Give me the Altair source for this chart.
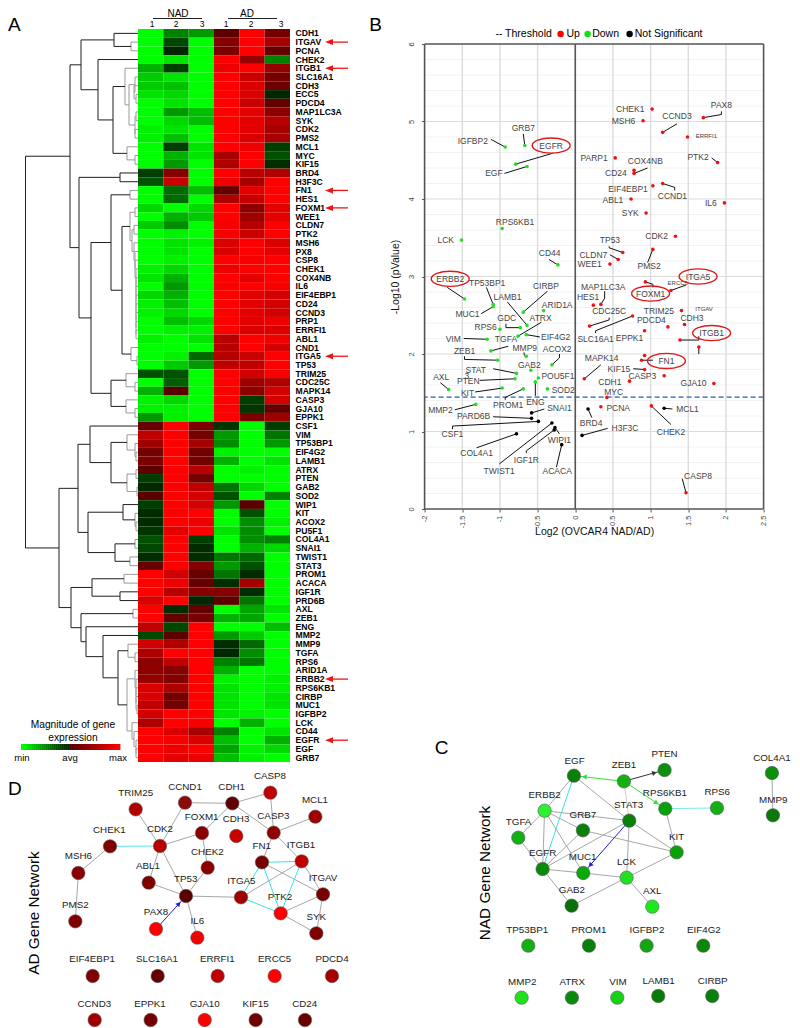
import math
import altair as alt
import pandas as pd

FONT = "Liberation Sans"

# ---------- A: heat map ----------
genes = ["CDH1","ITGAV","PCNA","CHEK2","ITGB1","SLC16A1","CDH3","ECC5","PDCD4","MAP1LC3A","SYK","CDK2","PMS2","MCL1","MYC","KIF15","BRD4","H3F3C","FN1","HES1","FOXM1","WEE1","CLDN7","PTK2","MSH6","PX8","CSP8","CHEK1","COX4NB","IL6","EIF4EBP1","CD24","CCND3","PRP1","ERRFI1","ABL1","CND1","ITGA5","TP53","TRIM25","CDC25C","MAPK14","CASP3","GJA10","EPPK1","CSF1","VIM","TP53BP1","EIF4G2","LAMB1","ATRX","PTEN","GAB2","SOD2","WIP1","KIT","ACOX2","PU5F1","COL4A1","SNAI1","TWIST1","STAT3","PROM1","ACACA","IGF1R","PRD6B","AXL","ZEB1","ENG","MMP2","MMP9","TGFA","RPS6","ARID1A","ERBB2","RPS6KB1","CIRBP","MUC1","IGFBP2","LCK","CD44","EGFR","EGF","GRB7"]
samples = ["N1","N2","N3","A1","A2","A3"]
heat = [
[-1,-.5,-.6,.03,1,.2],[-1,-.25,-1,.3,1,.5],[-1,-.02,-1,.25,1,.1],[-1,-.9,-1,1,.4,-.5],[-.7,-.2,-1,.9,1,.4],
[-.8,-.9,-1,1,.7,.2],[-.8,-.75,-1,1,.8,.15],[-.9,-.85,-1,1,.8,-.03],[-1,-.9,-1,1,.7,.08],[-1,-.6,-.75,1,.85,.35],
[-1,-.85,-.75,1,.85,.6],[-.95,-.9,-1,1,.85,.5],[-.95,-.75,-1,1,.8,.5],[-1,-.2,-.9,1,.9,-.2],[-1,-.7,-.9,.5,1,-.3],
[-1,-.6,-1,.55,1,-.1],[-.2,.3,-1,1,.6,.55],[-.3,.7,-1,.9,.5,1],[-1,-.4,-.75,.1,.85,1],[-1,-.4,-1,.55,.7,1],
[-.85,-1,-.85,1,.35,.85],[-1,-.7,-.8,1,.45,.85],[-.8,-.55,-1,.95,.6,1],[-1,-.95,-1,.95,.7,1],[-1,-.9,-.95,.8,1,.8],
[-1,-.9,-1,.8,1,.85],[-1,-.95,-1,1,.95,1],[-.95,-.85,-1,.9,1,1],[-.9,-.7,-1,1,.85,1],[-1,-.6,-1,.95,1,.95],
[-.85,-.7,-1,1,.85,.75],[-.95,-.75,-1,1,.85,.75],[-.95,-.85,-1,1,.85,.75],[-1,-.75,-.85,1,.85,.9],[-1,-.95,-.95,1,.8,.8],
[-.95,-1,-.9,.6,1,.9],[-1,-1,-1,.6,1,.75],[-1,-.95,-.4,.6,.7,1],[-1,-.8,-.6,.65,.65,1],[-.3,-.3,-1,1,.75,.95],
[-1,-.35,-1,1,.45,.55],[-.7,0,-1,1,.35,.75],[-.95,-.85,-1,1,-.2,.75],[-.95,-.95,-1,1,-.15,.1],[-.6,-.95,-1,1,.25,.45],
[.1,1,.25,-.15,-1,-.2],[.65,1,.2,-.6,-1,-.45],[.45,1,.5,-.55,-1,-.6],[.2,1,.2,-.95,-1,-1],[.25,1,.2,-.7,-1,-.9],
[.05,1,.6,-1,-.95,-1],[-.2,1,.2,-1,-1,-1],[-.05,1,.65,-.45,-.85,-1],[0,1,.75,-.3,-1,-.5],[-.2,1,.75,-.6,0,-1],
[-.08,1,1,-1,-.3,-1],[-.08,1,.9,-1,-.55,-.95],[-.15,.85,1,-.9,-.55,-1],[-.3,1,-.2,-1,-.55,-.5],[-.25,1,-.08,-1,-.7,-.85],
[-.08,1,-.08,-.45,-.4,-1],[.12,1,.3,-.6,-.3,-1],[1,.75,.12,-.45,-.08,-1],[1,.9,.1,-.1,.5,-1],[1,.6,.3,.3,-.1,-1],
[.8,1,-.03,.05,-.45,-1],[1,-.1,.1,-1,-.65,-.9],[1,.08,.2,-.7,-.65,-1],[.65,-.25,1,-1,-1,-.75],[-.25,.03,1,-.6,-.8,-1],
[.75,.55,1,-.1,-.4,-1],[.55,1,1,-.03,-.55,-1],[.35,.65,1,-.5,-.45,-1],[.35,.3,1,-.7,-1,-1],[.4,.3,1,-.95,-1,-.95],
[.8,.55,1,-.9,-1,-.95],[.8,.2,1,-.9,-1,-.9],[.65,.2,1,-.9,-1,-.9],[.75,1,1,-.9,-.95,-1],[.55,1,.95,-1,-.7,-1],
[1,.8,.5,-.5,-1,-.9],[1,.95,.8,-.75,-1,-.7],[1,.9,1,-.65,-.95,-.85],[1,.85,.9,-.75,-.95,-1]]
arrow_genes = ["ITGAV","ITGB1","FN1","FOXM1","ITGA5","ERBB2","EGFR"]

# dendrogram: (merge position, left, right), leaves are gene indices
t_5_12 = (129, (135, 5, (134, 6, (136, 7, 8))), (135, (136, 9, 10), (135, 11, 12)))
t_4_15 = (113, (125, 4, t_5_12), (127, 13, (135, 14, 15)))
t_0_15 = (81, (114, 0, (131, 1, 2)), (98, 3, t_4_15))
t_24_35 = (134, 24, (135, 25, (135, 26, (136, 27, (136, 28, (136, 29, (136, 30, (136, 31, (136, 32, (136, 33, (136, 34, 35)))))))))))
t_20_35 = (130, (135, 20, 21), (132, (134, 22, 23), t_24_35))
t_18_38 = (111, (130, 18, 19), (122, t_20_35, (131, 36, (137, 37, 38))))
t_39_44 = (111, (126, 39, (135, 40, 41)), (126, 42, (135, 43, 44)))
t_16_44 = (79, (120, 16, 17), (91, t_18_38, t_39_44))
t_45_53 = (90, 45, (111, (127, 46, (135, 47, (136, 48, 49))), (127, (136, 50, 51), (137, 52, 53))))
t_54_61 = (88, (123, 54, (135, 55, (136, 56, 57))), (115, (135, 58, 59), (130, 60, 61)))
t_73_83 = (127, (135, 73, (136, 74, (136, 75, (136, 76, (137, 77, 78))))), (132, 79, (134, 80, (136, 81, (136, 82, 83)))))
t_68_83 = (86, 68, (103, 69, (118, (128, 70, (135, 71, 72)), t_73_83)))
t_62_83 = (71, (92, (124, 62, 63), (120, 64, 65)), (81, (133, 66, 67), t_68_83))
tree = (25.5, (70, t_0_15, t_16_44), (59, (78, t_45_53, t_54_61), t_62_83))

HEAT_TOP, HEAT_BOTTOM, HEAT_LEFT, HEAT_RIGHT = 28, 761, 138, 290
ROW = (HEAT_BOTTOM - HEAT_TOP) / len(genes)
COL = (HEAT_RIGHT - HEAT_LEFT) / len(samples)

def genes_y(i):
    return HEAT_TOP + ROW * (i + .5)

segs = []
def walk(n):
    if isinstance(n, int):
        return float(HEAT_LEFT), genes_y(n)
    x, a, b = n
    xa, ya = walk(a)
    xb, yb = walk(b)
    shade = "#9a9a9a" if x >= 124 else "#1f1f1f"
    segs.extend([dict(x=x, x2=x, y=ya, y2=yb, c=shade),
                 dict(x=x, x2=xa, y=ya, y2=ya, c=shade),
                 dict(x=x, x2=xb, y=yb, y2=yb, c=shade)])
    return x, (ya + yb) / 2
walk(tree)

grad_stops = [i / 24 - 1 for i in range(49)]

# ---------- B: volcano ----------
# gene, log2 ratio, -log10 p, class
points = [
("CHEK1",1.02,5.16,"u"),("MSH6",.90,5.01,"u"),("PAX8",1.70,5.05,"u"),("CCND3",1.16,4.86,"u"),("ERRFI1",1.49,4.80,"u"),
("PARP1",.53,4.53,"u"),("COX4NB",.78,4.37,"u"),("CD24",.78,4.33,"u"),("PTK2",1.89,4.47,"u"),("EIF4EBP1",1.03,4.17,"u"),
("CCND1",1.16,4.20,"u"),("ABL1",.74,4.0,"u"),("IL6",1.98,3.95,"u"),("SYK",.94,3.82,"u"),("CDK2",1.33,3.52,"u"),
("TP53",.63,3.31,"u"),("PMS2",1.03,3.35,"u"),("CLDN7",.57,3.22,"u"),("WEE1",.46,3.16,"u"),
("GRB7",-.67,4.69,"d"),("IGFBP2",-.93,4.67,"d"),("EGFR",-.79,4.45,"d"),("EGF",-.64,4.42,"d"),("RPS6KB1",-.97,3.62,"d"),
("LCK",-1.51,3.47,"d"),("CD44",-.23,3.15,"d"),("ERBB2",-1.47,2.71,"d"),("TP53BP1",-1.09,2.64,"d"),("MUC1",-1.09,2.61,"d"),
("CIRBP",-.69,2.54,"d"),("LAMB1",-.64,2.37,"d"),("ARID1A",-.42,2.56,"d"),("GDC",-.73,2.34,"d"),("ATRX",-.76,2.23,"d"),
("RPS6",-1.0,2.32,"d"),("EIF4G2",-.65,2.25,"d"),("VIM",-1.17,2.19,"d"),("TGFA",-1.12,2.04,"d"),("ZEB1",-1.03,1.92,"d"),
("MMP9",-.65,1.97,"d"),("ACOX2",-.31,1.86,"d"),("GAB2",-.59,1.79,"d"),("STAT3",-.78,1.75,"d"),("PTEN",-.80,1.68,"d"),
("POU5F1",-.49,1.69,"d"),("ENG",-.53,1.64,"d"),("KIT",-.97,1.56,"d"),("PROM1",-.69,1.55,"d"),("SOD2",-.37,1.55,"d"),
("AXL",-1.68,1.54,"d"),("MMP2",-1.32,1.35,"d"),
("SNAI1",-.58,1.24,"n"),("PARD6B",-.58,1.17,"n"),("CSF1",-.49,1.13,"n"),("COL4A1",-.78,.97,"n"),("TWIST1",-.31,1.11,"n"),
("WIPI1",-.27,1.05,"n"),("IGF1R",-.28,1.02,"n"),("ACACA",-.18,.83,"n"),("MCL1",1.18,1.30,"n"),("BRD4",.17,1.29,"n"),("H3F3C",.09,.95,"n"),
("ITGA5",1.27,2.82,"u"),("FOXM1",.93,2.93,"u"),("MAP1LC3A",.34,2.64,"u"),("HES1",.24,2.63,"u"),("CDC25C",.19,2.36,"u"),
("SLC16A1",.76,2.49,"u"),("TRIM25",1.41,2.56,"u"),("CDH3",1.45,2.38,"u"),("PDCD4",1.23,2.35,"u"),("EPPK1",.92,2.30,"u"),
("ITGB1",1.39,2.18,"u"),("ITGAV",1.64,2.09,"u"),("CASP3b",.92,1.98,"u"),("FN1",.88,1.92,"u"),("KIF15",.92,1.80,"u"),
("MAPK14",.12,1.68,"u"),("CASP3",1.18,1.72,"u"),("CDH1",.72,1.65,"u"),("GJA10",1.84,1.62,"u"),("MYC",.42,1.44,"u"),
("PCNA",.34,1.32,"u"),("CHEK2",1.01,1.33,"u"),("CASP8",1.47,.21,"u"),
]
point_colors = {"u": "#f01010", "d": "#20e020", "n": "#000000"}
threshold = 1.444

# label positions as read: text, log2 position, -log10 position, font size
vlabels = [
("CHEK1",.73,5.16,8.5),("MSH6",.64,5.01,8.5),("PAX8",1.94,5.21,8.5),("CCND3",1.35,5.07,8.5),("ERRFI1",1.74,4.81,6),
("PARP1",.25,4.53,8.5),("COX4NB",.93,4.49,8.5),("CD24",.54,4.34,8.5),("PTK2",1.63,4.54,8.5),("EIF4EBP1",.70,4.13,8.5),
("CCND1",1.29,4.04,8.5),("ABL1",.50,3.99,8.5),("IL6",1.80,3.95,8.5),("SYK",.73,3.82,8.5),("CDK2",1.08,3.52,8.5),
("TP53",.46,3.47,8.5),("PMS2",.98,3.13,8.5),("CLDN7",.24,3.28,8.5),("WEE1",.19,3.16,8.5),
("GRB7",-.69,4.91,8.5),("IGFBP2",-1.36,4.75,8.5),("EGFR",-.32,4.69,8.5),("EGF",-1.08,4.34,8.5),("RPS6KB1",-.80,3.70,8.5),
("LCK",-1.72,3.47,8.5),("CD44",-.34,3.30,8.5),
("ERBB2",-1.66,2.97,8.5),("TP53BP1",-1.17,2.92,8.5),("MUC1",-1.43,2.52,8.5),("CIRBP",-.39,2.88,8.5),("LAMB1",-.90,2.74,8.5),
("ARID1A",-.24,2.63,8.5),("GDC",-.91,2.46,8.5),("ATRX",-.46,2.47,8.5),("RPS6",-1.19,2.35,8.5),("EIF4G2",-.26,2.22,8.5),
("VIM",-1.62,2.20,8.5),("TGFA",-.92,2.19,8.5),("ZEB1",-1.47,2.04,8.5),("MMP9",-.67,2.08,8.5),("ACOX2",-.24,2.06,8.5),
("GAB2",-.61,1.86,8.5),("STAT",-1.32,1.80,8.5),("PTEN",-1.42,1.65,8.5),("POU5F1",-.23,1.71,8.5),("ENG",-.53,1.38,8.5),
("KIT",-1.43,1.50,8.5),("PROM1",-.89,1.34,8.5),("SOD2",-.16,1.54,8.5),("AXL",-1.78,1.70,8.5),("MMP2",-1.79,1.28,8.5),
("SNAI1",-.21,1.30,8.5),("PARD6B",-1.35,1.20,8.5),("CSF1",-1.63,.97,8.5),("COL4A1",-1.31,.72,8.5),("TWIST1",-1.01,.49,8.5),
("WIPI1",-.21,.89,8.5),("IGF1R",-.65,.63,8.5),("ACACA",-.24,.49,8.5),
("ITGA5",1.63,3.0,8.5),("ERCC5",1.36,2.91,6),("FOXM1",1.0,2.78,8.5),("MAP1LC3A",.37,2.87,8.5),("HES1",.17,2.73,8.5),
("CDC25C",.45,2.55,8.5),("PDCD4",1.01,2.44,8.5),("TRIM25",1.11,2.56,8.5),("ITGAV",1.71,2.58,6),("CDH3",1.55,2.47,8.5),
("SLC16A1",.27,2.20,8.5),("EPPK1",.72,2.21,8.5),("ITGB1",1.81,2.27,8.5),("FN1",1.21,1.91,8.5),("KIF15",.58,1.81,8.5),
("MAPK14",.35,1.95,8.5),("CASP3",.89,1.71,8.5),("CDH1",.46,1.64,8.5),("GJA10",1.57,1.62,8.5),("MYC",.51,1.51,8.5),
("PCNA",.57,1.30,8.5),("MCL1",1.49,1.29,8.5),("BRD4",.21,1.11,8.5),("H3F3C",.66,1.04,8.5),("CHEK2",1.27,1.0,8.5),("CASP8",1.63,.42,8.5),
]
# leader lines as read, each a chain of log2 / -log10 vertices
leaders = [
[(1.70,5.05),(1.94,5.09),(1.94,5.13)],[(1.16,4.86),(1.35,4.97)],[(-.93,4.67),(-1.12,4.77)],[(-.67,4.69),(-.69,4.84)],
[(-.79,4.45),(-.30,4.59)],[(-.64,4.42),(-.94,4.33)],[(.78,4.33),(.96,4.40)],[(1.89,4.47),(1.81,4.53)],
[(1.16,4.20),(1.32,4.15),(1.32,4.11)],[(.63,3.31),(.45,3.37),(.45,3.39)],[(1.03,3.35),(.96,3.18)],[(.57,3.22),(.46,3.28)],
[(-.23,3.15),(-.35,3.22)],[(-1.47,2.71),(-1.70,2.86)],[(-1.09,2.64),(-1.18,2.86)],[(-1.09,2.61),(-1.25,2.52)],
[(-.69,2.54),(-.37,2.81)],[(-.64,2.37),(-.90,2.67)],[(-.73,2.34),(-.92,2.34),(-.92,2.39)],[(-.76,2.23),(-.45,2.41)],
[(-.65,2.25),(-.47,2.22)],[(-1.17,2.19),(-1.48,2.20)],[(-1.12,2.04),(-.89,2.10)],[(-1.03,1.92),(-1.47,1.93),(-1.47,1.97)],
[(-.65,1.97),(-.68,1.99),(-.68,2.02)],[(-.31,1.86),(-.21,1.95),(-.21,2.0)],[(-.78,1.75),(-1.09,1.81)],[(-.80,1.68),(-1.27,1.66)],
[(-.53,1.64),(-.53,1.46)],[(-.97,1.56),(-1.33,1.51)],[(-.69,1.55),(-.93,1.44),(-.93,1.41)],[(-1.68,1.54),(-1.79,1.63)],
[(-1.32,1.35),(-1.60,1.28)],[(-.58,1.24),(-.41,1.29)],[(-.58,1.17),(-1.09,1.19)],[(-.49,1.13),(-1.63,1.07),(-1.63,1.03)],
[(-.78,.97),(-1.31,.79)],[(-.31,1.11),(-1.01,.58)],[(-.27,1.05),(-.21,.97)],[(-.28,1.02),(-.65,.75),(-.65,.72)],[(-.18,.83),(-.25,.54)],
[(1.27,2.82),(1.47,2.89)],[(.93,2.93),(1.03,2.90),(1.03,2.86)],[(.34,2.64),(.39,2.72),(.39,2.81)],[(.19,2.36),(.45,2.44),(.45,2.47)],
[(.76,2.49),(.27,2.30),(.27,2.27)],[(1.39,2.18),(1.64,2.18),(1.64,2.23)],[(1.64,2.09),(1.64,2.0)],[(.88,1.92),(1.03,1.92)],
[(.92,1.80),(.77,1.81)],[(.12,1.68),(.34,1.86)],[(1.18,1.30),(1.29,1.29)],[(.17,1.29),(.22,1.18)],[(.09,.95),(.43,1.04)],
[(1.01,1.33),(1.27,1.09)],[(1.47,.21),(1.42,.39)],
]
ovals = ["EGFR","ERBB2","ITGA5","FOXM1","ITGB1","FN1"]

# ---------- C and D: networks ----------
nad_nodes = [
("EGF",460,164,"#0a7f0a",462,119),("ZEB1",610,181,"#12b012",610,133),("PTEN",732,147,"#0a900a",732,100),
("ERBB2",372,269,"#30ee30",372,222),("GRB7",487,328,"#0a800a",487,282),("STAT3",626,299,"#0a800a",624,252),
("RPS6KB1",734,263,"#0aa00a",733,217),("RPS6",889,261,"#12b012",890,214),("TGFA",293,350,"#12b012",294,303),
("KIT",768,394,"#0aa00a",768,347),("EGFR",366,444,"#0a8a0a",366,397),("MUC1",488,456,"#0aa80a",486,408),
("LCK",618,470,"#20e020",618,423),("GAB2",453,554,"#0a700a",454,507),("AXL",695,557,"#20e820",695,511),
("COL4A1",1054,156,"#0a900a",1054,110),("MMP9",1057,283,"#0a780a",1058,237),("TP53BP1",323,674,"#12b012",320,628),
("PROM1",505,674,"#0a800a",505,628),("IGFBP2",678,674,"#10a810",679,628),("EIF4G2",848,674,"#0a860a",850,628),
("MMP2",303,830,"#20e020",305,784),("ATRX",454,830,"#0a8a0a",455,784),("VIM",590,830,"#18d018",592,784),
("LAMB1",713,825,"#0a7a0a",714,779),("CIRBP",875,825,"#0a800a",876,779)]
nad_edges = [
("EGF","ERBB2","#a8a8a8"),("EGF","STAT3","#a8a8a8"),("EGF","EGFR","#33e5e5"),("RPS6KB1","RPS6","#7fe8e8"),("RPS6KB1","KIT","#a8a8a8"),
("ZEB1","STAT3","#f4c0c0"),("ERBB2","TGFA","#a8a8a8"),("ERBB2","STAT3","#a8a8a8"),("ERBB2","GRB7","#a8a8a8"),("ERBB2","EGFR","#a8a8a8"),
("ERBB2","MUC1","#a8a8a8"),("TGFA","EGFR","#a8a8a8"),("GRB7","EGFR","#a8a8a8"),("GRB7","KIT","#a8a8a8"),("STAT3","EGFR","#a8a8a8"),
("STAT3","LCK","#a8a8a8"),("STAT3","KIT","#a8a8a8"),("EGFR","MUC1","#a8a8a8"),("EGFR","GAB2","#a8a8a8"),("MUC1","LCK","#a8a8a8"),
("LCK","KIT","#a8a8a8"),("LCK","GAB2","#a8a8a8"),("LCK","AXL","#a8a8a8"),("COL4A1","MMP9","#a8a8a8"),
("ZEB1","EGF","#30e030"),("ZEB1","PTEN","#333333"),("ZEB1","RPS6KB1","#30e030"),("STAT3","MUC1","#2020e0")]
nad_arrows = [("ZEB1","EGF"),("ZEB1","PTEN"),("ZEB1","RPS6KB1"),("STAT3","MUC1")]

ad_nodes = [
("TRIM25",407,205,"#b00000",407,156),("CCND1",555,185,"#8b0a0a",555,137),("CDH1",697,187,"#600000",695,138),
("CASP8",811,155,"#c00000",810,105),("MCL1",946,227,"#a00000",945,178),("CDH3",709,285,"#c80000",708,235),
("CASP3",821,275,"#900000",820,226),("FOXM1",606,276,"#8a0000",605,227),("CDK2",480,315,"#b80000",480,265),
("CHEK1",330,316,"#800000",328,267),("MSH6",235,396,"#880000",235,346),("PMS2",226,541,"#800000",226,491),
("ABL1",446,425,"#800000",444,376),("CHEK2",623,380,"#8a0000",622,332),("TP53",558,465,"#5a0000",557,414),
("FN1",786,364,"#780000",785,315),("ITGB1",905,361,"#c00000",903,312),("ITGA5",723,469,"#a00000",724,420),
("PTK2",842,517,"#ff0000",840,467),("ITGAV",969,460,"#780000",969,411),("SYK",949,577,"#800000",949,528),
("PAX8",468,564,"#ff0000",468,514),("IL6",592,590,"#f00000",592,541),("EIF4EBP1",278,705,"#800000",276,655),
("SLC16A1",473,705,"#660000",471,655),("ERRFI1",653,705,"#c00000",652,655),("ERCC5",824,705,"#ff0000",824,655),
("PDCD4",996,705,"#a80000",996,655),("CCND3",284,837,"#a00000",283,788),("EPPK1",452,837,"#770000",450,788),
("GJA10",614,837,"#ff0000",614,788),("KIF15",767,837,"#700000",767,788),("CD24",915,837,"#6a0000",914,788)]
ad_edges = [
("MSH6","CHEK1","#a8a8a8"),("MSH6","PMS2","#a8a8a8"),("CHEK1","CDK2","#55e8e8"),("TRIM25","CDK2","#a8a8a8"),("CCND1","CDK2","#a8a8a8"),
("CCND1","CDH1","#a8a8a8"),("CDH1","CASP8","#a8a8a8"),("CDH1","CASP3","#a8a8a8"),("CDH1","FOXM1","#a8a8a8"),("CASP8","CASP3","#a8a8a8"),
("CASP3","MCL1","#a8a8a8"),("CASP3","ITGB1","#a8a8a8"),("CASP3","FN1","#a8a8a8"),("CDK2","FOXM1","#a8a8a8"),("CDK2","ABL1","#a8a8a8"),
("CDK2","TP53","#a8a8a8"),("FOXM1","CHEK2","#a8a8a8"),("CHEK2","TP53","#a8a8a8"),("ABL1","TP53","#a8a8a8"),("TP53","ITGA5","#a8a8a8"),
("TP53","IL6","#a8a8a8"),("ITGA5","FN1","#33e5e5"),("ITGA5","ITGB1","#a8a8a8"),("ITGA5","PTK2","#33e5e5"),("FN1","ITGB1","#33e5e5"),
("FN1","PTK2","#33e5e5"),("ITGB1","PTK2","#33e5e5"),("FN1","ITGAV","#a8a8a8"),("ITGB1","ITGAV","#a8a8a8"),("PTK2","ITGAV","#a8a8a8"),
("PTK2","SYK","#a8a8a8"),("ITGAV","SYK","#a8a8a8"),("PAX8","TP53","#2020e0")]
ad_arrows = [("PAX8","TP53")]


# ---------- helpers ----------
def sx(lo, hi):
    return alt.Scale(domain=[lo, hi], nice=False, zero=False)
def sy(lo, hi):
    return alt.Scale(domain=[lo, hi], nice=False, zero=False, reverse=True)

def page_layers(box):
    x0, x1, y0, y1 = box
    return dict(x=alt.X("x:Q", scale=sx(x0, x1), axis=None),
                y=alt.Y("y:Q", scale=sy(y0, y1), axis=None))

IDC = alt.Color("c:N", scale=None, legend=None)

def panel(layers, box):
    return alt.layer(*layers).properties(width=box[1] - box[0], height=box[3] - box[2])

def texts(rows, box, size=9, color="#000", weight="normal", align="center", angle=0, font=FONT, baseline="middle"):
    return alt.Chart(pd.DataFrame(rows, columns=["x", "y", "t"])).mark_text(
        font=font, fontSize=size, color=color, fontWeight=weight, align=align, angle=angle, baseline=baseline
    ).encode(text="t:N", **page_layers(box))

def lines(rows, box, width=1):
    df = pd.DataFrame(rows, columns=["x", "y", "x2", "y2", "c"])
    e = page_layers(box)
    return alt.Chart(df).mark_rule(strokeWidth=width).encode(
        x=e["x"], y=e["y"], x2="x2:Q", y2="y2:Q", color=IDC)


# ---------- A ----------
box_a = (8, 360, 8, 761)
e_a = page_layers(box_a)
heat_scale = alt.Scale(domain=[-1, 0, 1], range=["#00ff00", "#000000", "#ff0000"])

seg_df = pd.DataFrame(segs)
dendro_marks = alt.Chart(seg_df).mark_rule(strokeWidth=1).encode(
    x=e_a["x"], y=e_a["y"], x2="x2:Q", y2="y2:Q", color=IDC)

heat_df = pd.DataFrame([dict(gene=g, sample=s, v=heat[i][j],
                             x=HEAT_LEFT + COL * j, x2=HEAT_LEFT + COL * (j + 1),
                             y=HEAT_TOP + ROW * i, y2=HEAT_TOP + ROW * (i + 1))
                        for i, g in enumerate(genes) for j, s in enumerate(samples)])
heat_chart = alt.Chart(heat_df).mark_rect().encode(
    x=e_a["x"], x2="x2:Q", y=e_a["y"], y2="y2:Q",
    color=alt.Color("v:Q", scale=heat_scale, legend=None))

grad_df = pd.DataFrame({"v": grad_stops})
grad_df["x"] = 21 + (grad_df["v"] + 1) / 2 * 97
grad_df["x2"] = grad_df["x"] + 97 / 48 + .4
grad_df["y"] = 743
grad_df["y2"] = 749
grad = alt.Chart(grad_df).mark_rect().encode(
    x=e_a["x"], x2="x2:Q", y=e_a["y"], y2="y2:Q",
    color=alt.Color("v:Q", scale=heat_scale, legend=None))

arrow_rows = [(348, genes_y(genes.index(g)), 328, genes_y(genes.index(g)), "#f01515") for g in arrow_genes]
arrow_tips = pd.DataFrame([dict(x=329, y=genes_y(genes.index(g))) for g in arrow_genes])
tips = alt.Chart(arrow_tips).mark_point(shape="M-1,0 L1,-0.75 L1,0.75 Z", filled=True, color="#f01515",
                                        size=64, opacity=1).encode(x=e_a["x"], y=e_a["y"])

panel_a = panel([
    dendro_marks,
    heat_chart,
    grad,
    texts([(295.5, genes_y(i), g) for i, g in enumerate(genes)], box_a, size=8.6, weight="bold", align="left"),
    lines(arrow_rows, box_a, 1.3),
    tips,
    texts([(8, 24, "A")], box_a, size=19, align="left"),
    texts([(178, 12.8, "NAD"), (247, 12.8, "AD")], box_a, size=10),
    texts([(152, 23, "1"), (176, 23, "2"), (202, 23, "3"), (226, 23, "1"), (251, 23, "2"), (281, 23, "3")], box_a, size=8.5),
    lines([(153, 17.5, 202, 17.5, "#222"), (228, 17.5, 277, 17.5, "#222")], box_a, 1),
    texts([(73, 724, "Magnitude of gene"), (73, 737, "expression")], box_a, size=10.2),
    texts([(22, 757, "min"), (70, 757, "avg"), (118, 757, "max")], box_a, size=9.5),
], box_a)

# ---------- D ----------
def net_xy(zx, zy, ox, oy):
    return ox + zx / 3, oy + zy / 3

def network(nodes, edges, arrows_, ox, oy, box, extra):
    pos = {n[0]: net_xy(n[1], n[2], ox, oy) for n in nodes}
    e_rows = [(pos[a][0], pos[a][1], pos[b][0], pos[b][1], c) for a, b, c in edges]
    edge_layer = lines(e_rows, box, 1)
    node_df = pd.DataFrame([dict(x=pos[n[0]][0], y=pos[n[0]][1], c=n[3]) for n in nodes])
    enc = page_layers(box)
    node_layer = alt.Chart(node_df).mark_circle(size=180, stroke="#5a5a5a", strokeWidth=.6, opacity=1).encode(
        x=enc["x"], y=enc["y"], fill=alt.Fill("c:N", scale=None, legend=None))
    tip_rows = []
    ecol = {(a, b): c for a, b, c in edges}
    for a, b in arrows_:
        ax_, ay_ = pos[a]
        bx_, by_ = pos[b]
        d = ((bx_ - ax_) ** 2 + (by_ - ay_) ** 2) ** .5
        tx, ty = bx_ - (bx_ - ax_) / d * 10.5, by_ - (by_ - ay_) / d * 10.5
        ang = (math.degrees(math.atan2(by_ - ay_, bx_ - ax_)) + 90) % 360
        tip_rows.append(dict(x=tx, y=ty, c=ecol[(a, b)], ang=ang))
    tip_layer = alt.Chart(pd.DataFrame(tip_rows)).mark_point(shape="triangle-up", filled=True, size=28, opacity=1).encode(
        x=enc["x"], y=enc["y"], color=IDC,
        angle=alt.Angle("ang:Q", scale=None))
    label_rows = [(*net_xy(n[4], n[5], ox, oy), n[0]) for n in nodes]
    label_layer = texts(label_rows, box, size=9.8, color="#1a1a1a")
    return panel([edge_layer, node_layer, tip_layer, label_layer] + extra, box)

box_d = (8, 360, 761, 1012)
panel_d = network(ad_nodes, ad_edges, ad_arrows, 0, 740, box_d, [
    texts([(8, 788, "D")], box_d, size=19, align="left"),
    texts([(34, 912, "AD Gene Network")], box_d, size=15.3, angle=270),
])

left = alt.vconcat(panel_a, panel_d, spacing=0, bounds="flush")

# ---------- B ----------
box_head = (424, 763, 8, 43)
dots = pd.DataFrame({"x": [560, 587, 629], "y": [33, 33, 33], "c": ["#ff0000", "#10e010", "#000000"]})
head = panel([
    texts([(375, 24, "B")], box_head, size=19),
    texts([(523, 33, "-- Threshold"), (572.5, 33, "Up"), (605, 33, "Down"), (668, 33, "Not Significant")], box_head, size=10.5),
    alt.Chart(dots).mark_circle(size=42, opacity=1).encode(color=IDC, **page_layers(box_head)),
], box_head)

vx = alt.Scale(domain=[-2, 2.5], nice=False, zero=False)
vy = alt.Scale(domain=[0, 6], nice=False, zero=False)
X0 = alt.X("x:Q", scale=vx, title="Log2 (OVCAR4 NAD/AD)",
           axis=alt.Axis(values=[-2, -1.5, -1, -.5, 0, .5, 1, 1.5, 2, 2.5], labelAngle=270, labelAlign="right", labelBaseline="middle",
                         labelFont=FONT, labelFontSize=7.5, labelColor="#444", tickColor="#555", tickSize=3, domain=False,
                         grid=False, titleFont=FONT, titleFontSize=10.5, titleFontWeight="normal", titleColor="#111", titlePadding=-1,
                         labelPadding=3, labelExpr="'' + datum.value", labelOverlap=False))
Y0 = alt.Y("y:Q", scale=vy, title="-Log10 (pValue)",
           axis=alt.Axis(values=[0, 1, 2, 3, 4, 5, 6], labelAngle=270, labelAlign="center", labelBaseline="bottom",
                         labelFont=FONT, labelFontSize=7.5, labelColor="#444", tickColor="#555", tickSize=3, domain=False,
                         grid=False, titleFont=FONT, titleFontSize=10.5, titleFontWeight="normal", titleColor="#111", titlePadding=7,
                         labelPadding=6))

x_major = [-1.5, -1, -.5, .5, 1, 1.5, 2]
y_minor = [k / 5 for k in range(1, 30) if k % 5]
y_major = [1, 2, 3, 4, 5]
grid = [
    alt.Chart(pd.DataFrame({"y": y_minor})).mark_rule(color="#efefef", strokeWidth=.8).encode(y=Y0),
    alt.Chart(pd.DataFrame({"y": y_major})).mark_rule(color="#dcdcdc", strokeWidth=1.2).encode(y=Y0),
    alt.Chart(pd.DataFrame({"x": x_major})).mark_rule(color="#dcdcdc", strokeWidth=1.4).encode(x=X0),
]
frame = alt.Chart(pd.DataFrame({"x": [-2, 2.5, 0]})).mark_rule(color="#555555", strokeWidth=1.6).encode(x=X0)
hframe = alt.Chart(pd.DataFrame({"y": [0, 6]})).mark_rule(color="#555555", strokeWidth=1.6).encode(y=Y0)
thr = alt.Chart(pd.DataFrame({"y": [threshold]})).mark_rule(color="#5b8fcb", strokeWidth=1.6, strokeDash=[5, 3]).encode(y=Y0)

lead_rows = []
for chain in leaders:
    for m in range(len(chain) - 1):
        lead_rows.append(dict(x=chain[m][0], y=chain[m][1], x2=chain[m + 1][0], y2=chain[m + 1][1]))
lead = alt.Chart(pd.DataFrame(lead_rows)).mark_rule(color="#111111", strokeWidth=1).encode(x=X0, y=Y0, x2="x2:Q", y2="y2:Q")

pt_df = pd.DataFrame(points, columns=["gene", "x", "y", "k"])
pt_df["c"] = pt_df["k"].map(point_colors)
pts = alt.Chart(pt_df).mark_circle(size=13, opacity=1).encode(x=X0, y=Y0, color=IDC)

lab_df = pd.DataFrame(vlabels, columns=["t", "x", "y", "s"])
labs = [
    alt.Chart(lab_df[lab_df["s"] == s]).mark_text(font=FONT, fontSize=float(s), color="#444444").encode(x=X0, y=Y0, text="t:N")
    for s in sorted(lab_df["s"].unique())
]
stat_sub = alt.Chart(pd.DataFrame({"x": [-1.44], "y": [1.71], "t": ["3"]})).mark_text(font=FONT, fontSize=8.5, color="#444444").encode(x=X0, y=Y0, text="t:N")

oval_df = lab_df[lab_df["t"].isin(ovals)]
oval = alt.Chart(oval_df).mark_point(shape="M-1,0 A1,0.4 0 1,1 1,0 A1,0.4 0 1,1 -1,0 Z", size=1440,
                                     stroke="#e01818", strokeWidth=1.4, filled=False, opacity=1).encode(x=X0, y=Y0)

volcano = alt.layer(*grid, thr, frame, hframe, lead, pts, *labs, stat_sub, oval).properties(width=339, height=465)

# ---------- C ----------
box_c = (424, 763, 508, 1012)
panel_c = network(nad_nodes, nad_edges, nad_arrows, 420, 720, box_c, [
    texts([(441, 747, "C")], box_c, size=19),
    texts([(484, 872, "NAD Gene Network")], box_c, size=15.3, angle=270),
])

right = alt.vconcat(head, volcano, panel_c, spacing=0, bounds="flush")

chart = alt.hconcat(left, right, spacing=8.6).properties(padding=0).configure_view(stroke=None)
chart.save("out.html", embed_options={"renderer": "svg", "actions": False})
